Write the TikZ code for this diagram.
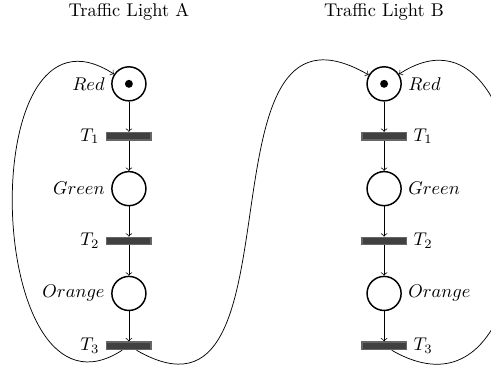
\documentclass[tikz,border=0pt]{standalone}
\usetikzlibrary{positioning,petri}

\begin{document}
\begin{tikzpicture}[
    node distance=1cm, on grid,
    place/.style={circle, draw, thick, inner sep=0pt, minimum size=6.5mm},
    transition/.style={rectangle, draw=black!60, fill=black!75, thick,
        inner sep=0pt, minimum width=8.5mm, minimum height=1.4mm},
    heading/.style={font=\normalsize, inner sep=2pt},
]
    \useasboundingbox (-2.46, -5.36) rectangle (6.91, 1.60);

    %% traffic light A, names on the left
    \node[heading] (titleA) at (0, 1.37) {Traffic Light A};
    \node[place, tokens=1, label=left:$Red$] (redA) at (0, 0) {};
    \node[transition, label=left:$T_1$, below=of redA] (t1A) {};
    \node[place, label=left:$Green$, below=of t1A] (greenA) {};
    \node[transition, label=left:$T_2$, below=of greenA] (t2A) {};
    \node[place, label=left:$Orange$, below=of t2A] (orangeA) {};
    \node[transition, label=left:$T_3$, below=of orangeA] (t3A) {};

    %% traffic light B, names on the right
    \node[heading] (titleB) at (4.87, 1.37) {Traffic Light B};
    \node[place, tokens=1, label=right:$Red$] (redB) at (4.87, 0) {};
    \node[transition, label=right:$T_1$, below=of redB] (t1B) {};
    \node[place, label=right:$Green$, below=of t1B] (greenB) {};
    \node[transition, label=right:$T_2$, below=of greenB] (t2B) {};
    \node[place, label=right:$Orange$, below=of t2B] (orangeB) {};
    \node[transition, label=right:$T_3$, below=of orangeB] (t3B) {};

    %% the arcs down each column
    \foreach \from/\to in {redA/t1A, t1A/greenA, greenA/t2A, t2A/orangeA,
            orangeA/t3A, redB/t1B, t1B/greenB, greenB/t2B, t2B/orangeB,
            orangeB/t3B}
        \draw[->] (\from) -- (\to);

    %% back to red: the long loops
    \draw[->] (t3A) .. controls +(213:3.3) and +(147:3.6) .. (redA);
    \draw[->] (t3A) .. controls +(-30:4) and +(150:4.3) .. (redB);
    \draw[->] (t3B) .. controls +(-30:4) and +(33:3.8) .. (redB);
\end{tikzpicture}
\end{document}
